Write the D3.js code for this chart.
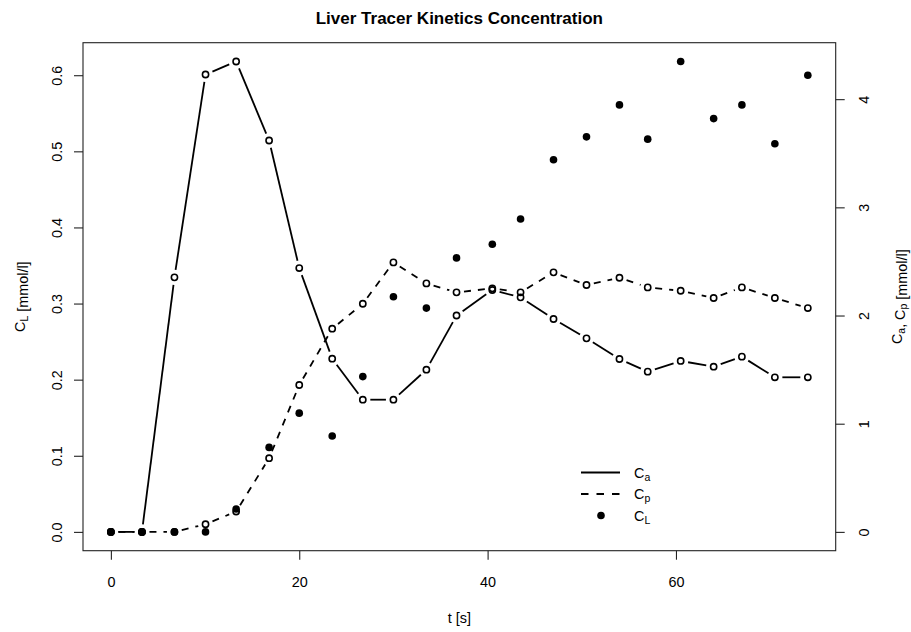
<!DOCTYPE html>
<html>
<head>
<meta charset="utf-8">
<script src="https://cdn.jsdelivr.net/npm/d3@7"></script>
<style>
  html, body { margin: 0; padding: 0; background: #fff; }
  svg { display: block; font-family: "Liberation Sans", Arial, Helvetica, sans-serif; }
</style>
</head>
<body>
<svg id="chart" width="911" height="632"></svg>
<script>
// ---- data ----
const times = [0, 3.3, 6.75, 10.05, 13.3, 16.8, 20.0, 23.5, 26.75, 30.0, 33.5, 36.7,
               40.5, 43.5, 47.0, 50.5, 54.0, 57.0, 60.5, 64.0, 67.0, 70.5, 74.0];
const Ca = [0, 0, 2.353, 4.228, 4.348, 3.618, 2.439, 1.601, 1.222, 1.222, 1.499, 2.0,
            2.236, 2.168, 1.968, 1.789, 1.598, 1.481, 1.580, 1.527, 1.620, 1.429, 1.429];
const Cp = [0, 0, 0, 0.071, 0.188, 0.681, 1.358, 1.878, 2.109, 2.491, 2.297, 2.214,
            2.251, 2.214, 2.399, 2.282, 2.349, 2.260, 2.229, 2.162, 2.260, 2.162, 2.069];
const CL = [0, 0, 0, 0, 0.030, 0.111, 0.156, 0.126, 0.204, 0.309, 0.294, 0.360,
            0.378, 0.411, 0.489, 0.519, 0.561, 0.516, 0.618, 0.543, 0.561, 0.510, 0.600];
const xTicks = [0, 20, 40, 60];
const leftTicks = [0, 0.1, 0.2, 0.3, 0.4, 0.5, 0.6];
const rightTicks = [0, 1, 2, 3, 4];
const title = "Liver Tracer Kinetics Concentration";

// ---- layout ----
const svg = d3.select("#chart");
const L = 83, R = 835.7, T = 42.7, B = 550.7;
const FS = 14.4, SUB = 10.5;

function rExt(lo, hi) { const d = (hi - lo) * 0.04; return [lo - d, hi + d]; }
const x = d3.scaleLinear().domain(rExt(0, d3.max(times))).range([L, R]);
const yL = d3.scaleLinear().domain(rExt(0, d3.max(CL))).range([B, T]);
const yR = d3.scaleLinear().domain(rExt(0, Math.max(d3.max(Ca), d3.max(Cp)))).range([B, T]);

// frame
svg.append("rect").attr("x", L).attr("y", T).attr("width", R - L).attr("height", B - T)
  .attr("fill", "none").attr("stroke", "#222").attr("stroke-width", 1.1);

// axes
const tick = 9;
const gx = svg.append("g").attr("transform", `translate(0,${B})`)
  .call(d3.axisBottom(x).tickValues(xTicks).tickSize(tick).tickFormat(d3.format("d")));
const gl = svg.append("g").attr("transform", `translate(${L},0)`)
  .call(d3.axisLeft(yL).tickValues(leftTicks).tickSize(tick).tickFormat(d3.format(".1f")));
const gr = svg.append("g").attr("transform", `translate(${R},0)`)
  .call(d3.axisRight(yR).tickValues(rightTicks).tickSize(tick).tickFormat(d3.format("d")));
[gx, gl, gr].forEach(g => {
  g.select(".domain").remove();
  g.selectAll(".tick line").attr("stroke", "#222").attr("stroke-width", 1.1);
  g.selectAll(".tick text").attr("font-size", FS).attr("fill", "#000")
    .attr("font-family", "'Liberation Sans', Arial, sans-serif");
});
gx.selectAll(".tick text").attr("y", 36.5).attr("dy", 0);
gl.selectAll(".tick text").attr("x", null).attr("dy", 0)
  .attr("text-anchor", "middle")
  .attr("transform", "translate(-21,0) rotate(-90)");
gr.selectAll(".tick text").attr("x", null).attr("dy", 0)
  .attr("text-anchor", "middle")
  .attr("transform", "translate(33.5,0) rotate(-90)");

// title
svg.append("text").attr("x", (L + R) / 2).attr("y", 24).attr("text-anchor", "middle")
  .attr("font-size", 17).attr("font-weight", "bold").attr("fill", "#000").text(title);

// x title
svg.append("text").attr("x", (L + R) / 2).attr("y", 623).attr("text-anchor", "middle")
  .attr("font-size", FS).attr("fill", "#000").text("t [s]");

// texts with subscripts
function subText(sel, parts, off) {
  const o = off || 3;
  parts.forEach(p => {
    if (p.sub) {
      sel.append("tspan").attr("font-size", SUB).attr("dy", o).text(p.t);
      sel.append("tspan").attr("dy", -o).text("");
    } else {
      sel.append("tspan").text(p.t);
    }
  });
}
const ylt = svg.append("text").attr("text-anchor", "middle").attr("font-size", FS).attr("fill", "#000")
  .attr("transform", `translate(25,${(T + B) / 2}) rotate(-90)`);
subText(ylt, [{t: "C"}, {t: "L", sub: true}, {t: " [mmol/l]"}]);
const yrt = svg.append("text").attr("text-anchor", "middle").attr("font-size", FS).attr("fill", "#000")
  .attr("transform", `translate(902,${(T + B) / 2}) rotate(-90)`);
subText(yrt, [{t: "C"}, {t: "a", sub: true}, {t: ", C"}, {t: "p", sub: true}, {t: " [mmol/l]"}], 2.5);

// type="b" lines: segments with gaps around points
const gap = 7.5;
function bLine(vals, yS, dash) {
  const pts = times.map((t, i) => [x(t), yS(vals[i])]);
  const segs = [];
  for (let i = 0; i < pts.length - 1; i++) {
    const [x1, y1] = pts[i], [x2, y2] = pts[i + 1];
    const len = Math.hypot(x2 - x1, y2 - y1);
    if (len <= 2 * gap) continue;
    const ux = (x2 - x1) / len, uy = (y2 - y1) / len;
    segs.push([x1 + ux * gap, y1 + uy * gap, x2 - ux * gap, y2 - uy * gap]);
  }
  svg.append("g").selectAll("line").data(segs).join("line")
    .attr("x1", d => d[0]).attr("y1", d => d[1]).attr("x2", d => d[2]).attr("y2", d => d[3])
    .attr("stroke", "#000").attr("stroke-width", 1.8)
    .attr("stroke-dasharray", dash || null);
  svg.append("g").selectAll("circle").data(pts).join("circle")
    .attr("cx", d => d[0]).attr("cy", d => d[1]).attr("r", 3.1)
    .attr("fill", "none").attr("stroke", "#000").attr("stroke-width", 1.6);
}
bLine(Ca, yR, null);
bLine(Cp, yR, "7,7");

// CL filled points
svg.append("g").selectAll("circle").data(times).join("circle")
  .attr("cx", d => x(d)).attr("cy", (d, i) => yL(CL[i])).attr("r", 3.8).attr("fill", "#000");

// legend
const lg = svg.append("g");
const rows = [472.5, 494, 515.5];
lg.append("line").attr("x1", 581).attr("x2", 620).attr("y1", rows[0]).attr("y2", rows[0])
  .attr("stroke", "#000").attr("stroke-width", 1.8);
lg.append("line").attr("x1", 581).attr("x2", 620).attr("y1", rows[1]).attr("y2", rows[1])
  .attr("stroke", "#000").attr("stroke-width", 1.8).attr("stroke-dasharray", "7.5,8");
lg.append("circle").attr("cx", 601).attr("cy", rows[2]).attr("r", 3.8).attr("fill", "#000");
[["C", "a"], ["C", "p"], ["C", "L"]].forEach((p, i) => {
  const t = lg.append("text").attr("x", 634).attr("y", rows[i] + 5).attr("font-size", FS).attr("fill", "#000");
  subText(t, [{t: p[0]}, {t: p[1], sub: true}]);
});
</script>
</body>
</html>
